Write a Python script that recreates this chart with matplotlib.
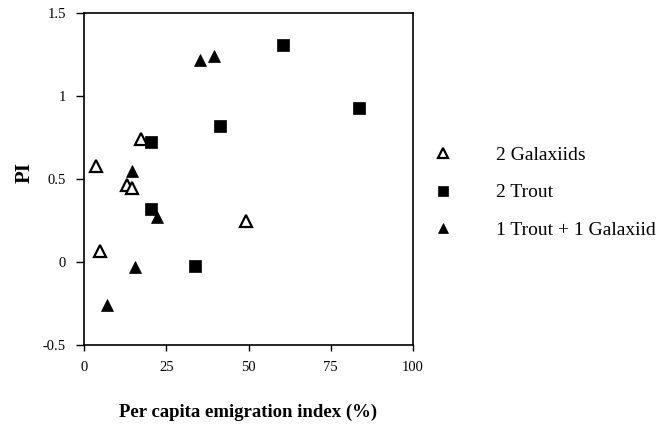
import matplotlib
matplotlib.use("Agg")
import matplotlib.pyplot as plt

plt.rcParams['font.family'] = ['Liberation Serif', 'DejaVu Serif']

# Data
gal_x = [3.5, 4.9, 13.2, 14.7, 17.2, 49.1]
gal_y = [0.581, 0.069, 0.465, 0.445, 0.740, 0.250]

trout_x = [20.3, 20.3, 33.7, 41.3, 60.5, 83.6]
trout_y = [0.318, 0.726, -0.022, 0.820, 1.31, 0.93]

mix_x = [6.9, 14.7, 15.4, 22.1, 35.4, 39.6]
mix_y = [-0.259, 0.551, -0.028, 0.274, 1.22, 1.24]

labels = ["2 Galaxiids", "2 Trout", "1 Trout + 1 Galaxiid"]
xticks = [0, 25, 50, 75, 100]
yticks = [-0.5, 0, 0.5, 1, 1.5]
yticklabels = ["-0.5", "0", "0.5", "1", "1.5"]

fig = plt.figure(figsize=(6.59, 4.26), dpi=100)
W, H = 659, 426
ax = fig.add_axes([84 / W, 1 - 345 / H, (413 - 84) / W, (345 - 13.3) / H])

ax.plot(gal_x, gal_y, linestyle='none', marker='^', ms=8, mfc='white',
        mec='black', mew=1.6, label=labels[0])
ax.plot(trout_x, trout_y, linestyle='none', marker='s', ms=8, mfc='black',
        mec='black', mew=0.5, label=labels[1])
ax.plot(mix_x, mix_y, linestyle='none', marker='^', ms=8, mfc='black',
        mec='black', mew=0.5, label=labels[2])

ax.set_xlim(0, 100)
ax.set_ylim(-0.5, 1.5)
ax.set_xticks(xticks)
ax.set_xticklabels([str(t) for t in xticks])
ax.set_yticks(yticks)
ax.set_yticklabels(yticklabels)
ax.tick_params(axis='x', direction='out', length=4.5, width=1, labelsize=10.5, pad=7)
ax.tick_params(axis='y', direction='out', length=6, width=1, labelsize=10.5, pad=7)

for s in ax.spines.values():
    s.set_linewidth(1.2)

ax.set_xlabel("Per capita emigration index (%)", fontsize=13.5, fontweight='bold')
ax.xaxis.set_label_coords(0.5, -0.178)
ax.set_ylabel("PI", fontsize=15, fontweight='bold')
ax.yaxis.set_label_coords(-0.15, 0.52)

leg = fig.legend(loc='center left', bbox_to_anchor=(433.3 / W, 1 - 192.5 / H),
                 bbox_transform=fig.transFigure, frameon=False, fontsize=14,
                 handlelength=1.0, handletextpad=2.2, labelspacing=1.03,
                 borderpad=0, borderaxespad=0, markerscale=0.85)

fig.savefig("out.png", dpi=100)
